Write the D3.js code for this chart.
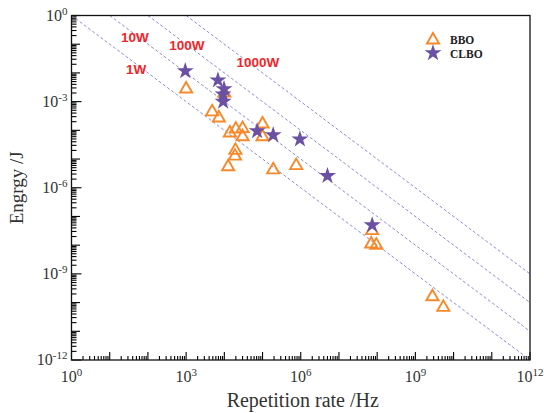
<!DOCTYPE html>
<html>
<head>
<meta charset="utf-8">
<script src="https://cdn.jsdelivr.net/npm/d3@7"></script>
<style>
  body { margin: 0; background: #fff; }
  svg { display: block; }
</style>
</head>
<body>
<div id="chart"></div>
<script>
/* DATA */
// BBO (open triangles)
const bboRate   = [1e3, 1e4, 4.8e3, 7.2e3, 1.4e4, 2e4, 3e4, 3e4, 1e5, 1e5, 1.95e4, 1.9e4, 1.26e4, 1.9e5, 7.6e5, 7.4e7, 7e7, 9.5e7, 2.8e9, 5.4e9];
const bboEnergy = [2.75e-3, 2e-3, 4.4e-4, 2.7e-4, 8.1e-5, 1.1e-4, 1.15e-4, 6e-5, 1.66e-4, 6e-5, 2e-5, 1.26e-5, 5.4e-6, 4.2e-6, 5.9e-6, 3.2e-8, 1.1e-8, 1e-8, 1.6e-10, 6.8e-11];
// CLBO (stars)
const clboRate   = [9.5e2, 6.8e3, 9.8e3, 9.3e3, 9.3e3, 7.2e4, 1.9e5, 9.5e5, 5e6, 7.4e7];
const clboEnergy = [1.17e-2, 5.6e-3, 2.75e-3, 1.8e-3, 1e-3, 9.5e-5, 6.9e-5, 4.9e-5, 2.6e-6, 5e-8];
// constant average power lines (W)
const powers = [1, 10, 100, 1000];
const powerLabels = ["1W", "10W", "100W", "1000W"];
// tick exponents
const xLabelExps = [0, 3, 6, 9, 12];
const yLabelExps = [0, -3, -6, -9, -12];

/* CONSTANTS */
const width = 544,
  height = 413,
  margin = { top: 15.5, bottom: 53, left: 71.5, right: 14 };

const orange = "#f7892b",
  purple = "#6a51a3",
  lineBlue = "#7b80d6",
  red = "#f0262a";

const svg = d3.select("#chart").append("svg")
  .attr("width", width)
  .attr("height", height);

// + SCALES
const xScale = d3.scaleLog()
  .domain([1, 1e12])
  .range([margin.left, width - margin.right]);

const yScale = d3.scaleLog()
  .domain([1e-12, 1])
  .range([height - margin.bottom, margin.top]);

const yAxisBottom = height - margin.bottom;

// tick values: minors 2..9 in every decade, majors at each decade
const xTicks = [], yTicks = [];
d3.range(0, 12).forEach(e => {
  for (let m = 2; m <= 9; m++) {
    xTicks.push({ v: m * Math.pow(10, e), len: 4 });
    yTicks.push({ v: m * Math.pow(10, -12 + e), len: 5 });
  }
});
d3.range(0, 13).forEach(e => {
  xTicks.push({ v: Math.pow(10, e), len: 8 });
  yTicks.push({ v: Math.pow(10, -e), len: e % 3 === 0 ? 10 : 8.5 });
});

// + AXIS TICKS (inward)
const tickG = svg.append("g")
  .attr("stroke", "#000")
  .attr("stroke-width", 1.1);

tickG.selectAll("line.xt")
  .data(xTicks)
  .join("line")
  .attr("class", "xt")
  .attr("x1", d => xScale(d.v))
  .attr("x2", d => xScale(d.v))
  .attr("y1", yAxisBottom)
  .attr("y2", d => yAxisBottom - d.len);

tickG.selectAll("line.yt")
  .data(yTicks)
  .join("line")
  .attr("class", "yt")
  .attr("y1", d => yScale(d.v))
  .attr("y2", d => yScale(d.v))
  .attr("x1", margin.left)
  .attr("x2", d => margin.left + d.len);

// + POWER LINES  E = P / f  (from E = 1 J down to the 1e12 Hz edge)
const powerLine = d3.line()
  .x(d => xScale(d[0]))
  .y(d => yScale(d[1]));

svg.append("g")
  .selectAll("path")
  .data(powers)
  .join("path")
  .attr("d", p => powerLine([[p, 1], [1e12, p / 1e12]]))
  .attr("fill", "none")
  .attr("stroke", lineBlue)
  .attr("stroke-width", 0.9)
  .attr("stroke-dasharray", "3,2.2");

// line labels (log10 of rate, log10 of energy)
const labelPos = [[1.69, -1.88], [1.66, -0.77], [3.02, -1.05], [4.88, -1.64]];
svg.append("g")
  .selectAll("text")
  .data(powerLabels)
  .join("text")
  .attr("x", (d, i) => xScale(Math.pow(10, labelPos[i][0])))
  .attr("y", (d, i) => yScale(Math.pow(10, labelPos[i][1])))
  .attr("text-anchor", "middle")
  .attr("dominant-baseline", "central")
  .attr("font-family", "Liberation Sans, Arial, sans-serif")
  .attr("font-weight", "bold")
  .attr("font-size", 13.5)
  .attr("fill", red)
  .text(d => d);

// frame
svg.append("rect")
  .attr("x", margin.left)
  .attr("y", margin.top)
  .attr("width", width - margin.left - margin.right)
  .attr("height", height - margin.top - margin.bottom)
  .attr("fill", "none")
  .attr("stroke", "#111")
  .attr("stroke-width", 1.3);

// tick labels with superscripts
const serif = "Liberation Serif, Times New Roman, serif";

const xLab = svg.append("g").selectAll("text")
  .data(xLabelExps)
  .join("text")
  .attr("x", e => xScale(Math.pow(10, e)))
  .attr("y", yAxisBottom + 22)
  .attr("text-anchor", "middle")
  .attr("font-family", serif)
  .attr("font-size", 16)
  .attr("fill", "#333");
xLab.append("tspan").text("10");
xLab.append("tspan").attr("dy", -6).attr("font-size", 11).text(e => e);

const yLab = svg.append("g").selectAll("text")
  .data(yLabelExps)
  .join("text")
  .attr("x", margin.left - 4)
  .attr("y", e => yScale(Math.pow(10, e)) + 5)
  .attr("text-anchor", "end")
  .attr("font-family", serif)
  .attr("font-size", 16)
  .attr("fill", "#333");
yLab.append("tspan").text("10");
yLab.append("tspan").attr("dy", -6).attr("font-size", 11).text(e => e);

// axis titles
svg.append("text")
  .attr("x", (margin.left + width - margin.right) / 2 + 2)
  .attr("y", height - 6)
  .attr("text-anchor", "middle")
  .attr("font-family", serif)
  .attr("font-size", 20)
  .attr("fill", "#333")
  .text("Repetition rate /Hz");

svg.append("text")
  .attr("transform", `translate(23,${(margin.top + yAxisBottom) / 2}) rotate(-90)`)
  .attr("text-anchor", "middle")
  .attr("font-family", serif)
  .attr("font-size", 19)
  .attr("fill", "#333")
  .text("Engrgy /J");

// + MARKS
const tri = d3.symbol().type(d3.symbolTriangle).size(64);
const star = d3.symbol().type(d3.symbolStar).size(90);

svg.append("g")
  .selectAll("path")
  .data(bboRate.map((r, i) => [r, bboEnergy[i]]))
  .join("path")
  .attr("transform", d => `translate(${xScale(d[0])},${yScale(d[1])})`)
  .attr("d", tri)
  .attr("fill", "none")
  .attr("stroke", orange)
  .attr("stroke-width", 1.9);

svg.append("g")
  .selectAll("path")
  .data(clboRate.map((r, i) => [r, clboEnergy[i]]))
  .join("path")
  .attr("transform", d => `translate(${xScale(d[0])},${yScale(d[1])})`)
  .attr("d", star)
  .attr("fill", purple);

// + LEGEND
const legend = svg.append("g").attr("transform", "translate(433,40)");
legend.append("path").attr("d", tri).attr("fill", "none").attr("stroke", orange).attr("stroke-width", 1.9);
legend.append("path").attr("transform", "translate(0,13)").attr("d", star).attr("fill", purple);
legend.append("text").attr("x", 17).attr("y", 4).text("BBO");
legend.append("text").attr("x", 17).attr("y", 17.5).text("CLBO");
legend.selectAll("text")
  .attr("font-family", serif)
  .attr("font-weight", "bold")
  .attr("font-size", 11.5)
  .attr("fill", "#222");
</script>
</body>
</html>
